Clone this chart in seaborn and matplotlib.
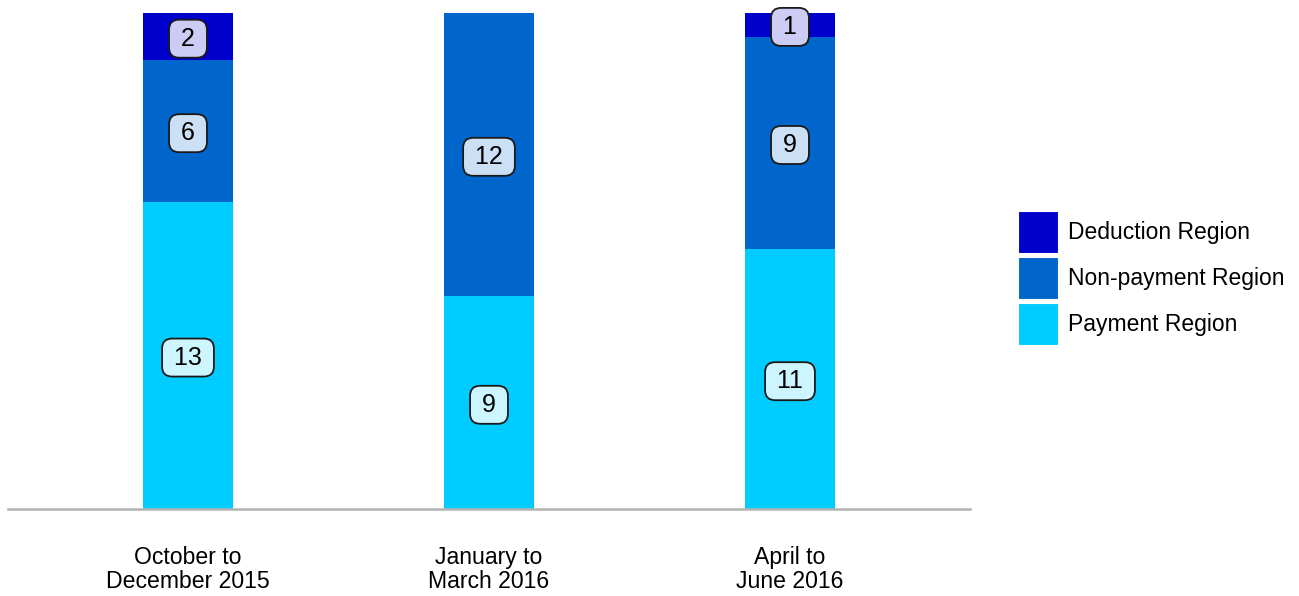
import numpy as np
import pandas as pd
import matplotlib
matplotlib.use("Agg")
import matplotlib.pyplot as plt
import seaborn as sns
from matplotlib.patches import Patch
from matplotlib.colors import to_rgb

sns.set_style("white")
plt.rcParams["font.family"] = ["Liberation Sans", "DejaVu Sans"]
plt.rcParams["text.color"] = "black"
plt.rcParams["xtick.color"] = "black"
plt.rcParams["xtick.labelcolor"] = "black"

periods = ["October to\nDecember 2015", "January to\nMarch 2016", "April to\nJune 2016"]
payment = [13, 9, 11]
non_payment = [6, 12, 9]
deduction = [2, 0, 1]

series_names = ["Payment Region", "Non-payment Region", "Deduction Region"]
series_colors = ["#00CCFF", "#0066CC", "#0000CC"]
series_values = [payment, non_payment, deduction]

fig = plt.figure(figsize=(12.99, 5.96), dpi=100)
ax = fig.add_axes([8 / 1299, 1 - 509 / 596, 962 / 1299, 496 / 596])

# cumulative heights, drawn from the tallest stack downwards
cum = np.cumsum(np.array(series_values), axis=0)
for i in range(len(series_values) - 1, -1, -1):
    df = pd.DataFrame({"period": periods, "value": cum[i]})
    sns.barplot(data=df, x="period", y="value", order=periods, color=series_colors[i],
                width=0.299, saturation=1, ax=ax, edgecolor="none", linewidth=0)


def tint(c, amount=0.8):
    r, g, b = to_rgb(c)
    return (r + (1 - r) * amount, g + (1 - g) * amount, b + (1 - b) * amount)


# value labels at segment midpoints
for i, vals in enumerate(series_values):
    base = cum[i - 1] if i > 0 else np.zeros(len(periods))
    for j, v in enumerate(vals):
        if v == 0:
            continue
        ax.annotate(f"\u2009{v}\u2009", xy=(j, base[j] + v / 2), xytext=(0, -1.5),
                    textcoords="offset points", ha="center", va="center",
                    fontsize=18, color="black",
                    bbox=dict(boxstyle="round,pad=0.28,rounding_size=0.4",
                              facecolor=tint(series_colors[i]), edgecolor="#1a1a1a",
                              linewidth=1.3))

ax.set_xlim(-0.598, 2.598)
ax.set_ylim(0, 21)
ax.set_xlabel("")
ax.set_ylabel("")
ax.set_yticks([])
for s in ["top", "left", "right"]:
    ax.spines[s].set_visible(False)
ax.spines["bottom"].set_color("#B3B3B3")
ax.spines["bottom"].set_linewidth(1.8)
ax.tick_params(axis="x", length=0, pad=26.5, labelsize=16.6, labelcolor="black")
for lab in ax.get_xticklabels():
    lab.set_linespacing(1.05)

handles = [Patch(facecolor=series_colors[i], edgecolor="white", linewidth=0.8)
           for i in range(len(series_names) - 1, -1, -1)]
labels = [series_names[i] for i in range(len(series_names) - 1, -1, -1)]
fig.legend(handles, labels, loc="upper left", bbox_to_anchor=(1018 / 1299, 1 - 211 / 596),
           frameon=False, fontsize=16.5, borderpad=0, borderaxespad=0,
           handlelength=1.75, handleheight=2.45, labelspacing=0.17, handletextpad=0.42)

fig.savefig("out.png", dpi=100)
